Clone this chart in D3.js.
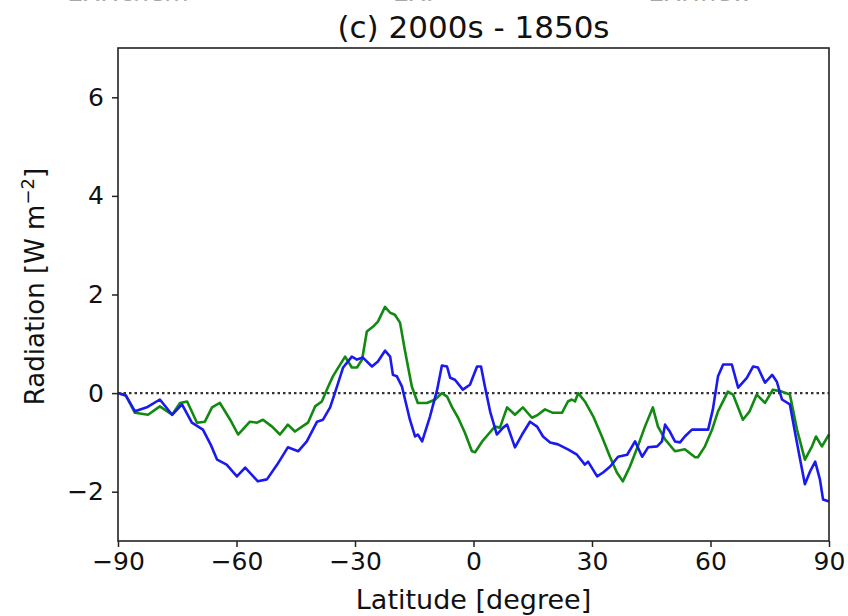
<!DOCTYPE html>
<html>
<head>
<meta charset="utf-8">
<script src="https://cdn.jsdelivr.net/npm/d3@7"></script>
<style>
  html, body { margin: 0; padding: 0; background: #fff; }
  svg { display: block; font-family: "DejaVu Sans", sans-serif; }
</style>
</head>
<body>
<svg id="chart" width="848" height="616"></svg>
<script>
// Zonal-mean radiation change, 2000s minus 1850s
const title = "(c) 2000s - 1850s";
const xLabel = "Latitude [degree]";
const headerLabels = ["EXP.chem", "EXP", "EXP.new"];
const xTicks = [-90, -60, -30, 0, 30, 60, 90];
const yTicks = [-2, 0, 2, 4, 6];

// blue series
const blueLat = [-90, -88, -85.7, -82.5, -79.4, -76.3, -73.8, -71.3, -68.5, -66.5, -64.9, -62.5, -59.9, -57.8,
  -54.6, -52.3, -49.7, -47.0, -44.4, -42.2, -39.6, -38.1, -36.3, -35.1, -33.0, -30.8, -29.5, -28.0,
  -25.7, -24.2, -22.4, -21.1, -20.4, -19.4, -18.1, -16.1, -14.8, -14.1, -13.0, -11.0, -9.2, -8.0,
  -6.7, -5.9, -4.7, -2.7, -0.9, 0.9, 1.9, 2.9, 4.2, 5.9, 7.5, 8.5, 10.5, 12.3, 14.3, 16.1, 17.6,
  19.4, 21.4, 23.9, 26.2, 28.2, 29.0, 31.3, 32.8, 34.6, 36.6, 38.9, 40.9, 42.7, 44.2, 46.5, 47.7,
  48.5, 49.7, 51.0, 52.3, 53.5, 55.3, 57.3, 59.4, 60.6, 61.9, 63.2, 65.4, 67.0, 69.2, 70.8, 72.0,
  73.8, 75.6, 76.8, 78.1, 80.1, 81.4, 82.7, 83.9, 85.2, 86.5, 87.7, 88.5, 90];
const blueVal = [0, -0.05, -0.37, -0.28, -0.13, -0.44, -0.23, -0.6, -0.74, -1.05, -1.35, -1.45, -1.69, -1.51,
  -1.79, -1.75, -1.45, -1.10, -1.18, -0.98, -0.58, -0.54, -0.29, 0, 0.52, 0.74, 0.68, 0.72,
  0.54, 0.64, 0.86, 0.74, 0.37, 0.34, 0.13, -0.54, -0.88, -0.84, -0.98, -0.47, 0.07, 0.56,
  0.54, 0.31, 0.27, 0.07, 0.17, 0.54, 0.54, 0.13, -0.37, -0.84, -0.70, -0.64, -1.10, -0.84, -0.58, -0.68, -0.88,
  -1.0, -1.04, -1.14, -1.25, -1.45, -1.39, -1.69, -1.61, -1.49, -1.29, -1.25, -0.98, -1.29, -1.10, -1.08, -0.98,
  -0.64, -0.78, -0.98, -1.0, -0.88, -0.74, -0.74, -0.74, -0.33, 0.34, 0.58, 0.58, 0.11, 0.31, 0.54, 0.52,
  0.21, 0.37, 0.23, -0.13, -0.23, -0.80, -1.35, -1.85, -1.59, -1.39, -1.75, -2.16, -2.2];

// green series
const greenLat = [-90, -88, -85.7, -82.4, -79.4, -76.3, -74.3, -72.5, -70.0, -68.0, -66.2, -64.2, -61.6, -59.6,
  -56.6, -54.8, -53.3, -51.0, -49.0, -47.0, -45.2, -43.4, -41.9, -40.1, -38.4, -36.8, -35.6, -34.6,
  -32.5, -30.8, -29.5, -28.2, -27.0, -25.4, -24.2, -22.4, -21.1, -19.9, -18.6, -17.3, -15.6, -14.1,
  -11.8, -9.7, -8.0, -6.7, -5.4, -3.9, -2.2, -0.4, 0.4, 2.2, 3.7, 5.4, 6.7, 8.5, 10.5, 12.5, 14.8,
  16.3, 18.1, 20.1, 22.4, 23.9, 24.9, 25.7, 26.5, 28.2, 30.3, 32.5, 34.6, 36.3, 37.8, 39.6, 41.6,
  43.4, 45.4, 46.7, 48.5, 51.0, 53.5, 56.1, 56.8, 58.6, 60.4, 61.9, 64.4, 65.7, 68.2, 69.9, 71.7,
  73.8, 75.8, 78.1, 80.1, 81.9, 83.9, 85.7, 86.7, 88.2, 90];
const greenVal = [0, -0.05, -0.40, -0.44, -0.27, -0.44, -0.20, -0.17, -0.60, -0.58, -0.29, -0.20, -0.54, -0.84,
  -0.58, -0.60, -0.54, -0.68, -0.84, -0.64, -0.78, -0.68, -0.60, -0.27, -0.17, 0.13, 0.34, 0.47,
  0.74, 0.52, 0.52, 0.68, 1.25, 1.35, 1.45, 1.75, 1.63, 1.59, 1.43, 0.84, 0.13, -0.20,
  -0.20, -0.13, 0, -0.07, -0.29, -0.50, -0.80, -1.18, -1.20, -0.98, -0.84, -0.68, -0.70, -0.29, -0.44, -0.29, -0.50,
  -0.44, -0.33, -0.40, -0.40, -0.17, -0.13, -0.17, 0, -0.17, -0.47, -0.88, -1.30, -1.61, -1.79, -1.49, -1.08,
  -0.68, -0.29, -0.68, -0.94, -1.18, -1.14, -1.30, -1.30, -1.08, -0.74, -0.37, 0.03, -0.03, -0.54, -0.37, -0.03,
  -0.20, 0.07, 0.03, -0.03, -0.74, -1.35, -1.08, -0.88, -1.08, -0.84];

const svg = d3.select("#chart");
const plot = { left: 118, right: 829, top: 48, bottom: 541 };

const x = d3.scaleLinear().domain([-90, 90]).range([plot.left, plot.right]);
const y = d3.scaleLinear().domain([-3, 7]).range([plot.bottom, plot.top]);

// faint header labels carried over from the panels above (mostly above the top edge)
svg.selectAll("text.header")
  .data(headerLabels)
  .join("text")
  .attr("class", "header")
  .attr("x", (d, i) => [128, 417, 700][i])
  .attr("y", 1)
  .attr("text-anchor", "middle")
  .attr("font-size", 25)
  .attr("fill", "#a8a8a8")
  .text(d => d);

// zero reference line
svg.append("line")
  .attr("x1", x(-90)).attr("x2", x(90))
  .attr("y1", y(0)).attr("y2", y(0))
  .attr("stroke", "#333")
  .attr("stroke-width", 2.4)
  .attr("stroke-dasharray", "2.5,3");

const line = d3.line().x(d => x(d[0])).y(d => y(d[1]));

svg.append("path")
  .datum(greenLat.map((v, i) => [v, greenVal[i]]))
  .attr("d", line)
  .attr("fill", "none")
  .attr("stroke", "#128a12")
  .attr("stroke-width", 2.6)
  .attr("stroke-linejoin", "round");

svg.append("path")
  .datum(blueLat.map((v, i) => [v, blueVal[i]]))
  .attr("d", line)
  .attr("fill", "none")
  .attr("stroke", "#1a1af0")
  .attr("stroke-width", 2.6)
  .attr("stroke-linejoin", "round");

// axes
const fmt = d => d < 0 ? "\u2212" + Math.abs(d) : String(d);
const xAxis = svg.append("g")
  .attr("transform", `translate(0,${plot.bottom})`)
  .call(d3.axisBottom(x).tickValues(xTicks).tickSize(6).tickPadding(5).tickFormat(fmt));
const yAxis = svg.append("g")
  .attr("transform", `translate(${plot.left},0)`)
  .call(d3.axisLeft(y).tickValues(yTicks).tickSize(6).tickPadding(8).tickFormat(fmt));

[xAxis, yAxis].forEach(g => {
  g.select(".domain").remove();
  g.selectAll(".tick line").attr("stroke", "#222").attr("stroke-width", 1.5);
  g.selectAll(".tick text")
    .attr("font-family", "DejaVu Sans, sans-serif")
    .attr("font-size", 25)
    .attr("fill", "#111");
});

// frame
svg.append("rect")
  .attr("x", plot.left).attr("y", plot.top)
  .attr("width", plot.right - plot.left)
  .attr("height", plot.bottom - plot.top)
  .attr("fill", "none")
  .attr("stroke", "#222")
  .attr("stroke-width", 1.6);

// labels
svg.append("text")
  .attr("x", (plot.left + plot.right) / 2)
  .attr("y", 38)
  .attr("text-anchor", "middle")
  .attr("font-size", 31)
  .attr("fill", "#111")
  .text(title);

svg.append("text")
  .attr("x", (plot.left + plot.right) / 2)
  .attr("y", 609)
  .attr("text-anchor", "middle")
  .attr("font-size", 27)
  .attr("fill", "#111")
  .text(xLabel);

const yl = svg.append("text")
  .attr("transform", `translate(44,${(plot.top + plot.bottom) / 2 - 8}) rotate(-90)`)
  .attr("text-anchor", "middle")
  .attr("font-size", 26)
  .attr("fill", "#111");
yl.append("tspan").text("Radiation [W m");
yl.append("tspan").attr("font-size", 18).attr("dy", -10).text("\u22122");
yl.append("tspan").attr("dy", 10).text("]");
</script>
</body>
</html>
